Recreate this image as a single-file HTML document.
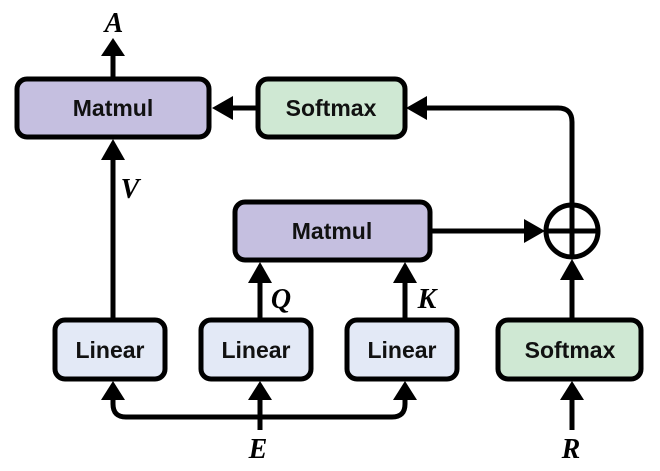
<!DOCTYPE html>
<html><head><style>
html,body{margin:0;padding:0;background:#fff;}
svg{display:block;}
.box{stroke:#000;stroke-width:5;}
.t{font-family:"Liberation Sans",sans-serif;font-weight:bold;font-size:23px;text-anchor:middle;dominant-baseline:central;fill:#111;}
.l{font-family:"Liberation Serif",serif;font-weight:bold;font-style:italic;font-size:28px;text-anchor:middle;fill:#000;}
.ln{stroke:#000;stroke-width:5;fill:none;}
</style></head><body>
<svg width="660" height="471" viewBox="0 0 660 471" xmlns="http://www.w3.org/2000/svg">
<!-- boxes -->
<rect class="box" x="17" y="79" width="192" height="58" rx="10" fill="#c5bfe0"/>
<text class="t" x="113" y="108">Matmul</text>
<rect class="box" x="258" y="79" width="147" height="58" rx="10" fill="#cfe8d3"/>
<text class="t" x="331" y="108">Softmax</text>
<rect class="box" x="235" y="202" width="195" height="58" rx="10" fill="#c5bfe0"/>
<text class="t" x="332" y="231">Matmul</text>
<rect class="box" x="55" y="320" width="110" height="59" rx="10" fill="#e3e9f6"/>
<text class="t" x="110" y="350">Linear</text>
<rect class="box" x="201" y="320" width="110" height="59" rx="10" fill="#e3e9f6"/>
<text class="t" x="256" y="350">Linear</text>
<rect class="box" x="347" y="320" width="110" height="59" rx="10" fill="#e3e9f6"/>
<text class="t" x="402" y="350">Linear</text>
<rect class="box" x="498" y="320" width="143" height="59" rx="10" fill="#cfe8d3"/>
<text class="t" x="570" y="350">Softmax</text>
<!-- circle -->
<circle cx="572" cy="231" r="26" class="ln"/>
<line class="ln" x1="546" y1="231" x2="598" y2="231"/>
<line class="ln" x1="572" y1="205" x2="572" y2="257"/>
<!-- connectors -->
<line class="ln" x1="113" y1="79" x2="113" y2="55"/>
<polygon points="101,56 125,56 113,38"/>
<line class="ln" x1="258" y1="108" x2="232" y2="108"/>
<polygon points="233,96 233,120 212,108"/>
<path class="ln" d="M572 205 V122 Q572 108 558 108 H425"/>
<polygon points="427,96 427,120 406,108"/>
<line class="ln" x1="430" y1="231" x2="525" y2="231"/>
<polygon points="524,219 524,243 545,231"/>
<line class="ln" x1="113" y1="320" x2="113" y2="158"/>
<polygon points="101,160 125,160 113,139"/>
<line class="ln" x1="260" y1="320" x2="260" y2="282"/>
<polygon points="248,283 272,283 260,262"/>
<line class="ln" x1="405" y1="320" x2="405" y2="282"/>
<polygon points="393,283 417,283 405,262"/>
<line class="ln" x1="572" y1="320" x2="572" y2="278"/>
<polygon points="560,280 584,280 572,259"/>
<path class="ln" d="M113 398 V404 Q113 417 126 417 H392 Q405 417 405 404 V398"/>
<polygon points="101,400 125,400 113,381"/>
<polygon points="393,400 417,400 405,381"/>
<line class="ln" x1="260" y1="430" x2="260" y2="398"/>
<polygon points="248,400 272,400 260,381"/>
<line class="ln" x1="572" y1="430" x2="572" y2="398"/>
<polygon points="560,400 584,400 572,381"/>
<!-- labels -->
<text class="l" x="114" y="32">A</text>
<text class="l" x="130" y="198">V</text>
<text class="l" x="281" y="308">Q</text>
<text class="l" x="427" y="308">K</text>
<text class="l" x="258" y="458">E</text>
<text class="l" x="571" y="458">R</text>
</svg>
</body></html>
